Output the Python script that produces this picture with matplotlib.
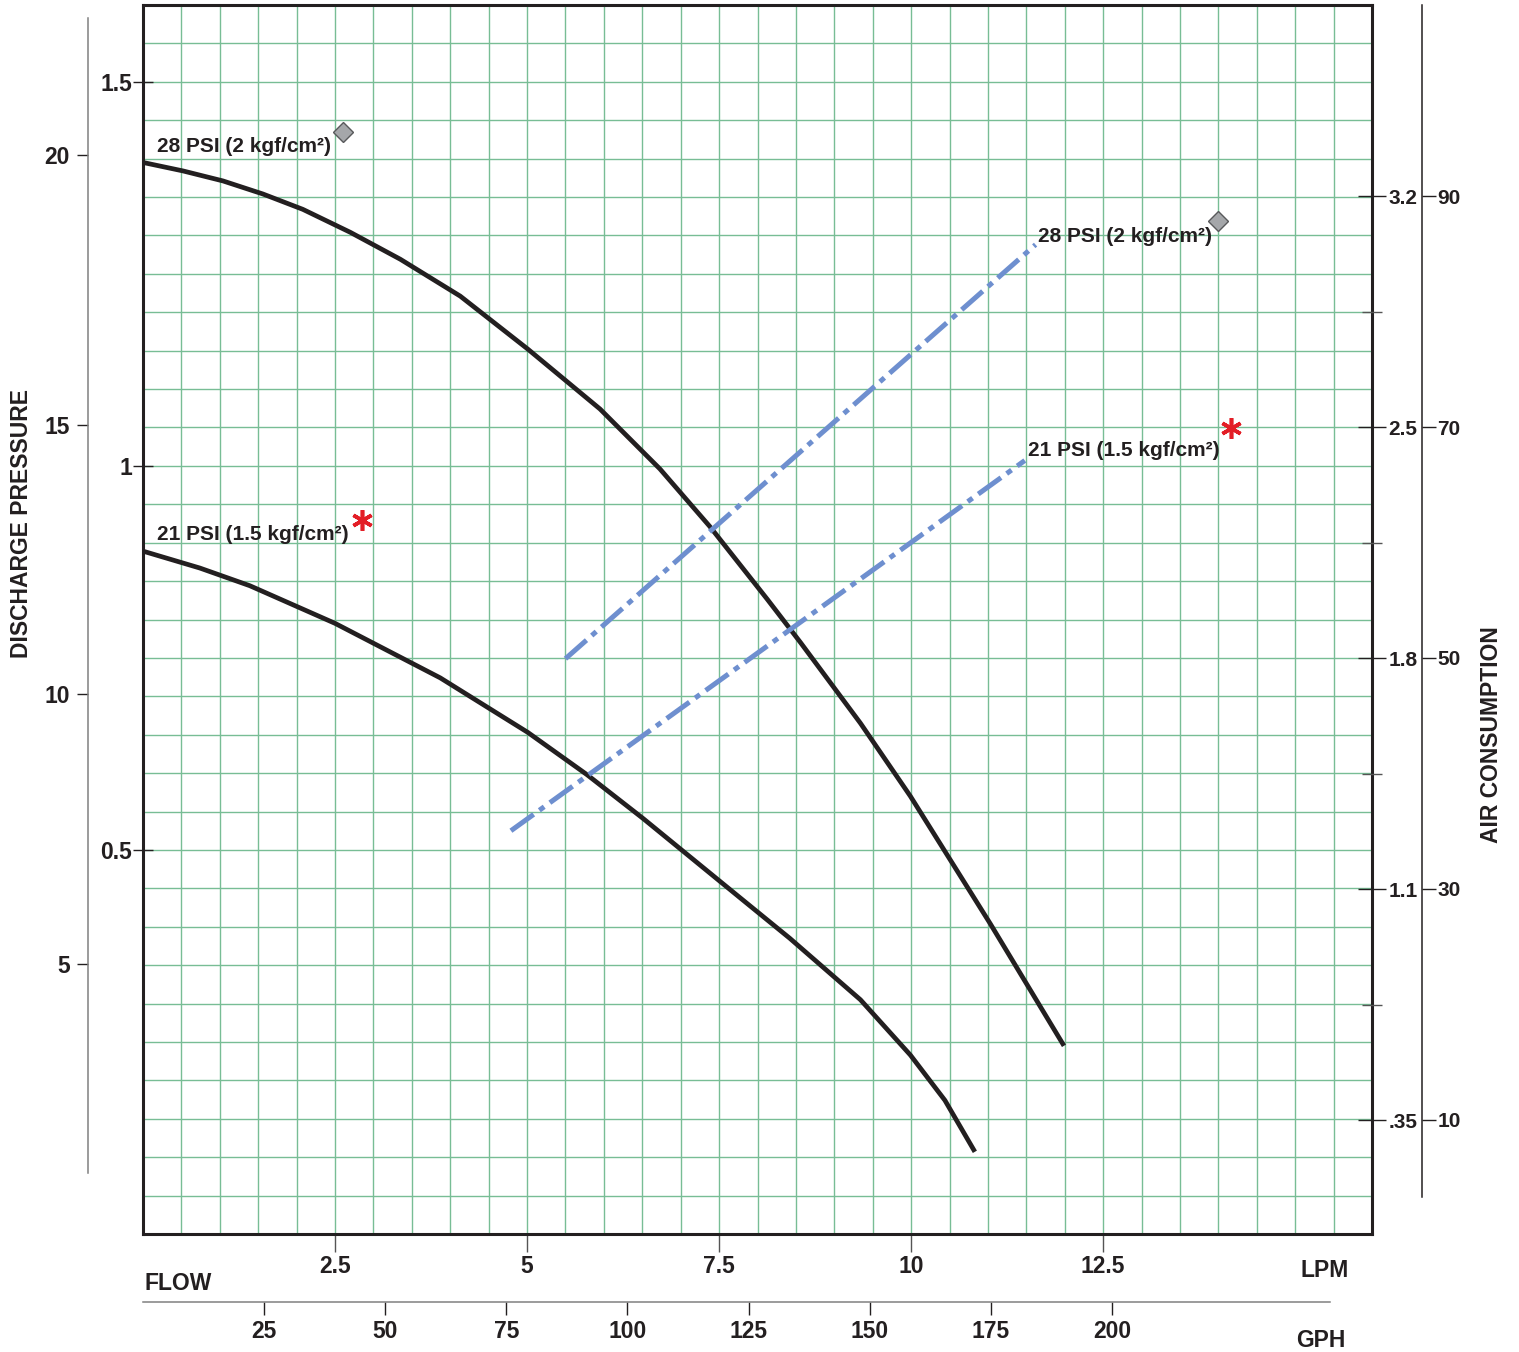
import numpy as np
import matplotlib
matplotlib.use('Agg')
from matplotlib import pyplot as plt
from matplotlib.ticker import MultipleLocator

plt.rcParams['font.family'] = ['Liberation Sans', 'DejaVu Sans']
plt.rcParams['font.weight'] = 'bold'

INK = '#231f20'
GRID = '#78bd95'
BLUE = '#6e8fcf'

# pump curves: flow (LPM) vs discharge pressure (bar)
flow_28 = [0.0, 0.52, 1.04, 1.56, 2.08, 2.70, 3.35, 4.13, 5.01, 5.95, 6.73, 7.38,
           8.13, 8.56, 9.34, 9.99, 11.03, 11.99]
bar_28 = [1.395, 1.384, 1.371, 1.354, 1.334, 1.304, 1.269, 1.221, 1.152, 1.074, 0.996,
          0.921, 0.826, 0.770, 0.665, 0.570, 0.404, 0.245]

flow_21 = [0.0, 0.74, 1.39, 2.50, 3.87, 5.01, 5.78, 6.51, 7.77, 8.42, 9.34, 9.99,
           10.44, 10.83]
bar_21 = [0.889, 0.867, 0.844, 0.795, 0.724, 0.653, 0.598, 0.541, 0.438, 0.385, 0.305,
          0.233, 0.174, 0.107]

# air consumption lines (drawn on the same flow / bar grid)
air_flow_28 = [5.50, 11.62]
air_bar_28 = [0.749, 1.288]
air_flow_21 = [4.79, 11.48]
air_bar_21 = [0.525, 1.007]

# label markers
diamond_flow = [2.60, 14.00]
diamond_bar = [1.435, 1.319]
star_flow = [2.85, 14.17]
star_bar = [0.930, 1.049]

lpm_ticks = [2.5, 5, 7.5, 10, 12.5]
bar_ticks = [0.5, 1, 1.5]
psi_ticks = [5, 10, 15, 20]
gph_ticks = [25, 50, 75, 100, 125, 150, 175, 200]
scfm_ticks = [10, 30, 50, 70, 90]
scfm_minor = [20, 40, 60, 80]
m3h_labels = ['.35', '1.1', '1.8', '2.5', '3.2']

W, H = 1519, 1352
fig = plt.figure(figsize=(W / 100, H / 100), dpi=100)


def box(x0, y0, x1, y1):
    return [x0 / W, 1 - y1 / H, (x1 - x0) / W, (y1 - y0) / H]


ax = fig.add_axes(box(143, 5, 1372, 1234))
ax.set_xlim(0, 16)
ax.set_ylim(0, 1.6)
ax.xaxis.set_minor_locator(MultipleLocator(0.5))
ax.yaxis.set_minor_locator(MultipleLocator(0.05))
ax.grid(True, which='both', color=GRID, lw=1.0, zorder=0)
ax.set_axisbelow(True)
for s in ax.spines.values():
    s.set_linewidth(2.2)
    s.set_color(INK)
    s.set_zorder(5)
ax.set_xticks(lpm_ticks)
ax.set_xticklabels(['2.5', '5', '7.5', '10', '12.5'])
ax.set_yticks(bar_ticks)
ax.set_yticklabels(['0.5', '1', '1.5'])
ax.tick_params(which='minor', length=0)
ax.tick_params(axis='x', which='major', direction='out', length=13, width=1,
               color='#555555', pad=2, labelsize=16.5, labelcolor=INK)
ax.tick_params(axis='y', which='major', direction='inout', length=14, width=1,
               color=INK, pad=1, labelsize=16.5, labelcolor=INK)

ax.plot(flow_28, bar_28, color=INK, lw=3.4, solid_joinstyle='round',
        solid_capstyle='butt', zorder=3)
ax.plot(flow_21, bar_21, color=INK, lw=3.4, solid_joinstyle='round',
        solid_capstyle='butt', zorder=3)
ax.plot(air_flow_28, air_bar_28, color=BLUE, lw=3.6, dashes=[5.6, 1.4, 1.2, 1.4], zorder=3)
ax.plot(air_flow_21, air_bar_21, color=BLUE, lw=3.6, dashes=[5.6, 1.4, 1.2, 1.4], zorder=3)
ax.plot(diamond_flow, diamond_bar, 'D', ms=10.5, color='#a5a7aa', mec='#58595b', mew=1, zorder=4)
ax.plot(star_flow, star_bar, ls='none', marker=(6, 2, 0), ms=15, mec='#e31e26', mew=2.6, zorder=4)

lab = dict(fontsize=15, color=INK, fontweight='bold', va='baseline', ha='left', zorder=4)
ax.text(0.18, 1.408, '28 PSI (2 kgf/cm²)', **lab)
ax.text(0.18, 0.904, '21 PSI (1.5 kgf/cm²)', **lab)
ax.text(11.65, 1.292, '28 PSI (2 kgf/cm²)', **lab)
ax.text(11.52, 1.013, '21 PSI (1.5 kgf/cm²)', **lab)

# inner right axis: air consumption
axr = ax.twinx()
axr.set_ylim(0.13, 106.54)
axr.set_yticks(scfm_ticks)
axr.set_yticklabels(m3h_labels)
axr.set_yticks(scfm_minor, minor=True)
axr.tick_params(which='major', direction='inout', length=20, width=1, color=INK,
                pad=2, labelsize=15, labelcolor=INK)
axr.tick_params(which='minor', direction='inout', length=14, width=1, color='#555555')
for s in axr.spines.values():
    s.set_visible(False)

# outer left axis: psi
axp = fig.add_axes(box(88, 18, 89, 1173))
axp.set_ylim(1.125, 22.54)
axp.set_xticks([])
for k in ['top', 'right', 'bottom']:
    axp.spines[k].set_visible(False)
axp.spines['left'].set_color('#808080')
axp.spines['left'].set_linewidth(1.1)
axp.patch.set_visible(False)
axp.set_yticks(psi_ticks)
axp.tick_params(axis='y', direction='out', length=8, width=1, color=INK, pad=5,
                labelsize=16.5, labelcolor=INK)

# outer right axis: scfm
axs = fig.add_axes(box(1421, 5, 1422, 1197))
axs.set_ylim(3.33, 106.54)
axs.set_xticks([])
for k in ['top', 'left', 'bottom']:
    axs.spines[k].set_visible(False)
axs.spines['right'].set_color(INK)
axs.spines['right'].set_linewidth(1.1)
axs.patch.set_visible(False)
axs.yaxis.tick_right()
axs.set_yticks(scfm_ticks)
axs.tick_params(axis='y', direction='out', length=10, width=1, color=INK, pad=1,
                labelsize=15, labelcolor=INK)

# lower axis: gph
axg = fig.add_axes(box(143, 1301, 1330, 1302))
axg.set_xlim(0, 245.0)
axg.set_yticks([])
for k in ['top', 'left', 'right']:
    axg.spines[k].set_visible(False)
axg.spines['bottom'].set_color('#808080')
axg.spines['bottom'].set_linewidth(1.1)
axg.patch.set_visible(False)
axg.set_xticks(gph_ticks)
axg.tick_params(axis='x', direction='out', length=9, width=1, color=INK, pad=4,
                labelsize=16.5, labelcolor=INK)

txt = dict(color=INK, fontweight='bold', fontsize=16.5)
fig.text(22 / W, 1 - 523 / H, 'DISCHARGE PRESSURE', rotation=90, ha='center', va='center', **txt)
fig.text(1492 / W, 1 - 735 / H, 'AIR CONSUMPTION', rotation=90, ha='center', va='center', **txt)
fig.text(145 / W, 1 - 1290 / H, 'FLOW', ha='left', va='baseline', **txt)
fig.text(1300 / W, 1 - 1277 / H, 'LPM', ha='left', va='baseline', **txt)
fig.text(1296 / W, 1 - 1347 / H, 'GPH', ha='left', va='baseline', **txt)

fig.savefig('out.png', dpi=100)
